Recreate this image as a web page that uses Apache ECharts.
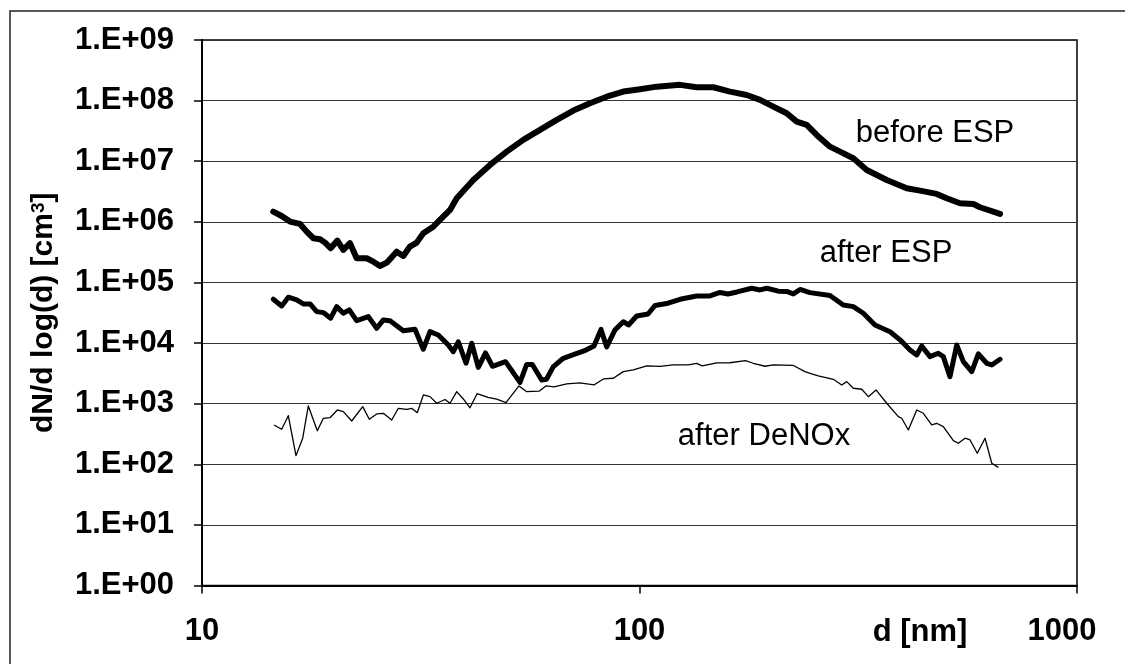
<!DOCTYPE html>
<html>
<head>
<meta charset="utf-8">
<script src="https://cdn.jsdelivr.net/npm/echarts@6/dist/echarts.min.js"></script>
<style>
html,body{margin:0;padding:0;background:#fff;}
#c{width:1125px;height:664px;}
</style>
</head>
<body>
<div id="c"></div>
<script>
// Particle diameter d [nm] and number size distribution dN/dlog(d) [cm^-3]
const dBefore = [14.55,15.21,15.89,16.75,17.35,17.97,18.61,19.11,19.68,20.39,21.04,21.79,22.57,23.79,24.64,25.52,26.44,27.86,28.85,29.88,30.95,32.05,33.78,35.31,36.89,38.21,41.70,45.53,49.71,54.24,59.23,64.68,70.60,77.07,84.15,91.83,100.3,109.5,123.8,135.1,147.5,161.0,175.8,188.6,202.2,217.0,228.8,241.1,254.1,272.5,287.3,308.1,330.7,367.4,408.1,437.7,477.8,503.6,540.2,579.6,600.1,666.8];
const vBefore = [1.47e6,1.25e6,1.01e6,9.23e5,6.89e5,5.36e5,5.16e5,4.54e5,3.67e5,4.90e5,3.44e5,4.44e5,2.51e5,2.51e5,2.20e5,1.87e5,2.12e5,3.22e5,2.74e5,3.90e5,4.54e5,6.48e5,8.33e5,1.15e6,1.57e6,2.45e6,4.91e6,8.69e6,1.44e7,2.25e7,3.28e7,4.80e7,6.84e7,9.06e7,1.16e8,1.41e8,1.54e8,1.70e8,1.82e8,1.66e8,1.66e8,1.41e8,1.24e8,1.03e8,7.96e7,6.20e7,4.50e7,3.97e7,2.72e7,1.74e7,1.44e7,1.12e7,7.18e6,4.91e6,3.58e6,3.27e6,2.89e6,2.45e6,2.03e6,1.97e6,1.74e6,1.35e6];

const dAfterESP = [14.55,15.21,15.75,16.46,17.04,17.66,18.29,18.94,19.68,20.32,21.04,21.71,22.57,24.00,25.08,25.97,26.90,28.85,30.68,32.05,33.20,34.68,36.56,37.53,38.53,40.13,41.35,42.81,44.46,46.13,49.40,53.32,55.23,56.88,59.76,61.29,63.54,66.96,70.86,74.67,78.70,81.66,84.15,87.90,91.83,94.38,98.54,104.6,108.5,116.2,123.8,135.1,144.9,152.8,159.3,167.1,180.5,188.6,195.4,207.7,217.0,224.7,232.8,245.3,272.5,292.3,308.1,324.8,345.3,373.8,394.0,415.3,430.2,441.6,461.3,481.9,494.8,512.4,531.0,549.8,574.7,595.0,621.9,638.5,666.8];
const vAfterESP = [5.28e4,4.09e4,5.70e4,5.14e4,4.42e4,4.42e4,3.30e4,3.18e4,2.57e4,3.99e4,3.10e4,3.52e4,2.34e4,2.73e4,1.75e4,2.41e4,2.34e4,1.60e4,1.69e4,7.90e3,1.54e4,1.36e4,9.30e3,7.21e3,1.05e4,4.64e3,9.92e3,3.96e3,6.86e3,4.14e3,4.93e3,2.24e3,4.44e3,4.44e3,2.46e3,2.53e3,4.08e3,5.61e3,6.48e3,7.41e3,8.96e3,1.68e4,8.62e3,1.65e4,2.25e4,1.99e4,2.80e4,3.02e4,4.17e4,4.54e4,5.28e4,5.99e4,5.99e4,6.84e4,6.46e4,6.97e4,8.02e4,7.52e4,8.02e4,7.19e4,7.10e4,6.46e4,7.66e4,6.79e4,6.10e4,4.25e4,3.99e4,3.10e4,1.99e4,1.54e4,1.13e4,7.69e3,6.36e3,8.96e3,5.97e3,6.79e3,5.97e3,2.79e3,9.30e3,4.93e3,3.37e3,6.61e3,4.64e3,4.35e3,5.40e3];

const dDeNOx = [14.61,15.21,15.75,16.40,16.99,17.50,18.35,18.94,19.61,20.39,21.04,21.99,23.30,24.12,25.08,25.97,27.14,28.10,29.37,30.15,31.05,32.05,33.20,34.39,35.93,36.89,38.21,39.56,40.98,42.52,45.05,47.16,49.53,53.03,55.23,58.92,61.13,63.77,68.19,73.11,78.70,82.65,87.12,91.83,96.79,103.9,111.4,119.5,129.1,135.1,139.0,150.2,161.0,174.7,182.0,193.6,202.2,224.7,238.9,247.5,256.3,277.3,289.9,297.6,308.1,322.1,333.5,347.2,367.4,390.5,397.5,411.6,430.2,445.4,465.5,477.8,494.8,521.6,535.5,554.6,569.6,591.6,616.3,638.5,660.9];
const vDeNOx = [445,378,634,139,269,916,358,574,587,787,738,518,892,553,676,694,538,839,808,839,710,1392,1305,1015,1173,1015,1578,1196,855,1462,1266,1187,1039,1960,1578,1608,1960,1887,2114,2196,2035,2556,2625,3374,3598,4190,4111,4351,4351,4607,4190,4695,4731,5124,4642,4143,4351,4270,3374,3091,2865,2527,2035,2307,1795,1729,1305,1683,1015,610,574,368,787,694,445,475,417,245,222,269,252,152,269,104,89];

const seriesNames = ['before ESP', 'after ESP', 'after DeNOx'];
const xTickLabels = ['10', '100', '1000'];           // decades 1..3
const yTickLabels = ['1.E+00','1.E+01','1.E+02','1.E+03','1.E+04','1.E+05','1.E+06','1.E+07','1.E+08','1.E+09'];
const xAxisTitle = 'd [nm]';

function pairs(d, v) { return d.map((x, i) => [x, v[i]]); }

const FONT = '"Liberation Sans", Arial, Helvetica, sans-serif';
const chart = echarts.init(document.getElementById('c'), null, {renderer: 'canvas'});

chart.setOption({
  animation: false,
  backgroundColor: '#ffffff',
  grid: {
    left: 202, top: 40, right: 48, bottom: 78.5,
    show: true, borderColor: '#000', borderWidth: 1.5, backgroundColor: 'transparent'
  },
  xAxis: {
    type: 'log', logBase: 10, min: 10, max: 1000,
    axisLine: {show: true, lineStyle: {color: '#000', width: 2}},
    axisTick: {show: true, length: 8, lineStyle: {color: '#000', width: 1.5}},
    splitLine: {show: false},
    minorTick: {show: false},
    axisLabel: {
      margin: 30, fontSize: 31, fontWeight: 'bold', color: '#000', fontFamily: FONT,
      formatter: function (v) {
        const k = Math.round(Math.log10(v)) - 1;
        const t = xTickLabels[k];
        return k === 2 ? '{r|' + t + '}' : t;
      },
      rich: {r: {fontSize: 31, fontWeight: 'bold', color: '#000', fontFamily: FONT, padding: [0, 30, 0, 0]}}
    }
  },
  yAxis: {
    type: 'log', logBase: 10, min: 1, max: 1e9,
    name: 'dN/d log(d) [cm{sup|3}]',
    nameLocation: 'middle', nameGap: 143,
    nameTextStyle: {
      fontSize: 30, fontWeight: 'bold', color: '#000', fontFamily: FONT,
      rich: {sup: {fontSize: 19, fontWeight: 'bold', color: '#000', fontFamily: FONT, verticalAlign: 'top'}}
    },
    axisLine: {show: true, lineStyle: {color: '#000', width: 2}},
    axisTick: {show: true, length: 8, lineStyle: {color: '#000', width: 1.5}},
    splitLine: {show: true, lineStyle: {color: '#333', width: 1.2}},
    minorTick: {show: false},
    axisLabel: {
      margin: 28, fontSize: 31, fontWeight: 'bold', color: '#000', fontFamily: FONT,
      formatter: function (v) { return yTickLabels[Math.round(Math.log10(v))]; }
    }
  },
  series: [
    {type: 'line', name: seriesNames[0], data: pairs(dBefore, vBefore), symbol: 'none', z: 4,
     lineStyle: {color: '#000', width: 6, cap: 'round', join: 'round'}},
    {type: 'line', name: seriesNames[1], data: pairs(dAfterESP, vAfterESP), symbol: 'none', z: 3,
     lineStyle: {color: '#000', width: 5, cap: 'round', join: 'round'}},
    {type: 'line', name: seriesNames[2], data: pairs(dDeNOx, vDeNOx), symbol: 'none', z: 2,
     lineStyle: {color: '#000', width: 1.3, join: 'round'}}
  ],
  graphic: [
    {type: 'polyline', silent: true, shape: {points: [[10, 700], [10, 11], [1200, 11]]},
     style: {stroke: '#222', lineWidth: 1.5, fill: null}},
    {type: 'text', x: 935, y: 133, style: {text: seriesNames[0], font: '31px ' + FONT, fill: '#000', textAlign: 'center', textVerticalAlign: 'middle'}},
    {type: 'text', x: 886, y: 253, style: {text: seriesNames[1], font: '31px ' + FONT, fill: '#000', textAlign: 'center', textVerticalAlign: 'middle'}},
    {type: 'text', x: 764, y: 436, style: {text: seriesNames[2], font: '31px ' + FONT, fill: '#000', textAlign: 'center', textVerticalAlign: 'middle'}},
    {type: 'text', x: 920, y: 632, style: {text: xAxisTitle, font: 'bold 31px ' + FONT, fill: '#000', textAlign: 'center', textVerticalAlign: 'middle'}}
  ]
});
</script>
</body>
</html>
